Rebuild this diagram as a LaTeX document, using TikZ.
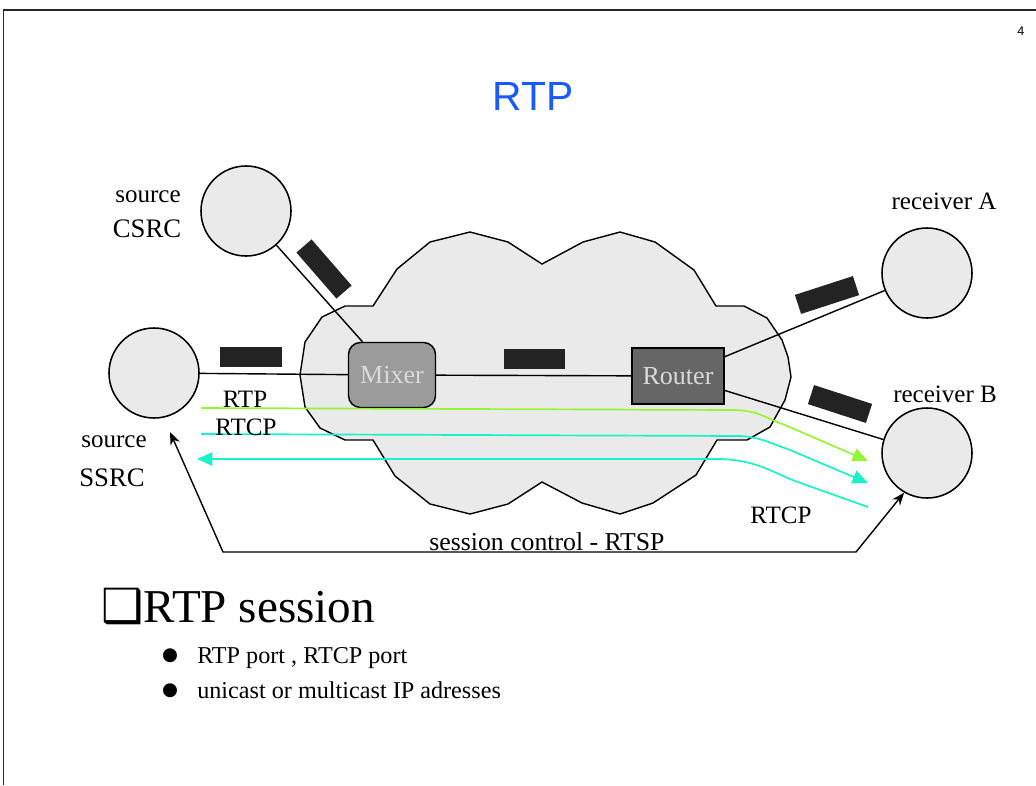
\documentclass[tikz,border=0pt]{standalone}
\usepackage{fontspec}
\setmainfont{Liberation Serif}
\newfontfamily\arialfont{Liberation Sans}
\newfontfamily\symfont{DejaVu Sans}
\usetikzlibrary{arrows.meta}

\definecolor{cloudgray}{RGB}{234,234,234}
\definecolor{mixgray}{RGB}{155,155,155}
\definecolor{routgray}{RGB}{102,102,102}
\definecolor{boxtext}{RGB}{218,218,218}
\definecolor{pktblack}{RGB}{35,35,35}
\definecolor{rtpgreen}{RGB}{150,245,50}
\definecolor{rtcpcyan}{RGB}{25,242,200}
\definecolor{titleblue}{RGB}{25,90,255}
\definecolor{framegray}{RGB}{40,40,40}

\newcommand\lblsize{\fontsize{17.8pt}{20pt}\selectfont}
\newcommand\idsize{\fontsize{19pt}{22pt}\selectfont}
\newcommand\boxsize{\fontsize{18.5pt}{21pt}\selectfont}
\newcommand\headsize{\fontsize{33.5pt}{38pt}\selectfont}
\newcommand\itemsize{\fontsize{17.2pt}{20pt}\selectfont}

\tikzset{
  host/.style={circle,draw,fill=cloudgray,line width=1.1pt,minimum size=2.25cm,inner sep=0pt},
  link/.style={line width=1pt},
  packet/.style={fill=pktblack,minimum width=1.525cm,minimum height=0.5cm,inner sep=0pt},
  lbl/.style={anchor=base,font=\lblsize,inner sep=0pt},
  idlbl/.style={anchor=base,font=\idsize,inner sep=0pt},
  flow/.style={line width=1.2pt,-{Triangle[length=11pt,width=9.5pt]}},
  ctl/.style={line width=1pt,{Stealth[length=9pt,width=7pt]}-{Stealth[length=9pt,width=7pt]}},
}

\begin{document}
\begin{tikzpicture}[x=0.025cm,y=-0.025cm]
\useasboundingbox (0,0) rectangle (1036,785);
% slide frame
\draw[framegray,line width=1.1pt] (3.5,785) -- (3.5,10) -- (1036,10);
\node[font=\arialfont\fontsize{9pt}{10pt}\selectfont] (pageno) at (1021,31) {4};
\node[font=\arialfont\fontsize{29pt}{34pt}\selectfont,text=titleblue] (title) at (533,96) {RTP};

% network cloud
\draw[line width=1pt,fill=cloudgray] (373,306) -- (397,269) -- (430,242) -- (470,232)
  -- (508,242) -- (542,264) -- (583,242) -- (620,232) -- (655,242) -- (694,270)
  -- (716,306) -- (744,306) -- (767,318) -- (782,340) -- (788,357) -- (791,377)
  -- (785,400) -- (770,427) -- (747,440) -- (717,440) -- (696,475) -- (653,503)
  -- (620,514) -- (582,503) -- (542,482) -- (508,504) -- (470,514) -- (430,504)
  -- (395,476) -- (373,440) -- (345,440) -- (320,428) -- (305,407) -- (300,375)
  -- (305,342) -- (322,317) -- (345,306) -- cycle;

% end points
\node[host] (csrc) at (246,211) {};
\node[host] (ssrc) at (154,373) {};
\node[host] (rcva) at (927,273) {};
\node[host] (rcvb) at (927,453) {};

\node[idlbl] (csrcsrc) at (148,202) {\lblsize source};
\node[idlbl] (csrcid) at (147,237) {CSRC};
\node[idlbl] (ssrcsrc) at (114,447) {\lblsize source};
\node[idlbl] (ssrcid) at (112,486) {SSRC};
\node[lbl] (rcvalbl) at (944,209) {receiver A};
\node[lbl] (rcvblbl) at (945,402) {receiver B};

% mixer and router
\node[draw,line width=1pt,fill=mixgray,rounded corners=0.3cm,minimum width=2.175cm,
  minimum height=1.625cm,text=boxtext,font=\boxsize] (mixer) at (392,375) {Mixer};
\node[draw,line width=1pt,fill=routgray,minimum width=2.3cm,minimum height=1.4cm,
  text=boxtext,font=\boxsize] (router) at (678,376) {Router};

\draw[link] (ssrc) -- (mixer);
\draw[link] (csrc) -- (mixer);
\draw[link] (mixer) -- (router);
\draw[link] (router) -- (rcva);
\draw[link] (router) -- (rcvb);

% packets on the links
\node[packet] (pktS) at (251,357) {};
\node[packet,rotate=-49] (pktC) at (324,269) {};
\node[packet] (pktM) at (534,359) {};
\node[packet,rotate=18] (pktA) at (827,295) {};
\node[packet,rotate=-18] (pktB) at (840,404) {};

% RTP / RTCP flows
\coordinate (rtpS) at (201,408);
\coordinate (rtpB) at (868,461);
\coordinate (rtcpS) at (201,434);
\coordinate (rtcpB) at (868,483);
\coordinate (backB) at (868,507);
\coordinate (backS) at (197,459);
\draw[flow,rtpgreen] (rtpS) -- (735,410) .. controls (760,411) and (765,418) .. (785,425) -- (rtpB);
\draw[flow,rtcpcyan] (rtcpS) -- (740,436) .. controls (760,437) and (770,443) .. (790,450) -- (rtcpB);
\draw[flow,rtcpcyan] (backB) -- (795,481) .. controls (770,471) and (755,460) .. (720,459) -- (backS);

\node[lbl] (rtplbl) at (245,407) {RTP};
\node[lbl] (rtcplbl) at (246,435) {RTCP};
\node[lbl] (rtcpback) at (781,523) {RTCP};

% session control
\coordinate (ctlS) at (170,432);
\coordinate (ctlL) at (223,552);
\coordinate (ctlR) at (856,552);
\draw[ctl] (ctlS) -- (ctlL) -- (ctlR) -- (rcvb.-120);
\node[lbl] (ctllbl) at (547,550) {\fontsize{18.3pt}{20pt}\selectfont session control - RTSP};

% bullet text
\node[anchor=base west,font=\headsize,inner sep=0pt] (sess) at (101,622) {{\symfont ❑}RTP session};
\node[font=\symfont\fontsize{13pt}{14pt}\selectfont,inner sep=0pt] (dot1) at (170,656) {●};
\node[anchor=base west,font=\itemsize,inner sep=0pt] (item1) at (197,663) {RTP port , RTCP port};
\node[font=\symfont\fontsize{13pt}{14pt}\selectfont,inner sep=0pt] (dot2) at (170,691) {●};
\node[anchor=base west,font=\itemsize,inner sep=0pt] (item2) at (197,698) {unicast or multicast IP adresses};
\end{tikzpicture}
\end{document}
